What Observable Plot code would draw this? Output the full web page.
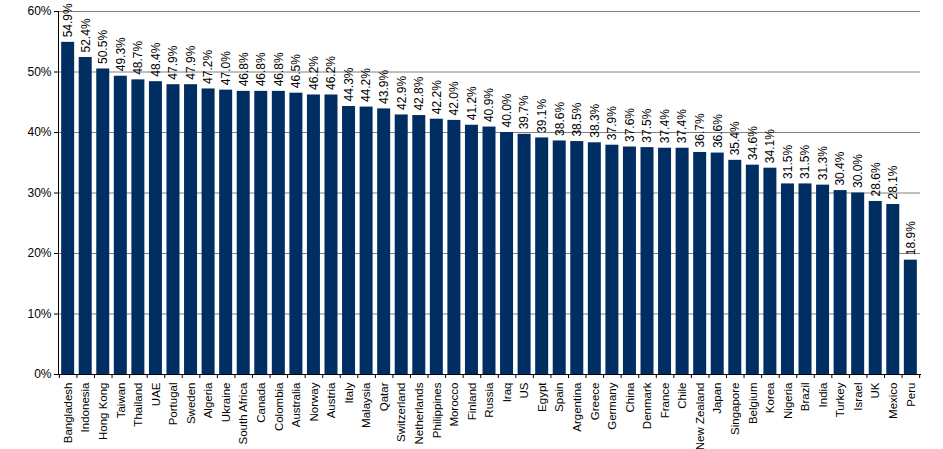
<!DOCTYPE html>
<html><head><meta charset="utf-8">
<script src="https://cdn.jsdelivr.net/npm/d3@7"></script>
<script src="https://cdn.jsdelivr.net/npm/@observablehq/plot@0.6"></script>
<style>body{margin:0;background:#fff;font-family:"Liberation Sans",Arial,sans-serif}</style>
</head><body><div id="chart"></div>
<script>
const countries = ["Bangladesh","Indonesia","Hong Kong","Taiwan","Thailand","UAE","Portugal","Sweden","Algeria","Ukraine","South Africa","Canada","Colombia","Australia","Norway","Austria","Italy","Malaysia","Qatar","Switzerland","Netherlands","Philippines","Morocco","Finland","Russia","Iraq","US","Egypt","Spain","Argentina","Greece","Germany","China","Denmark","France","Chile","New Zealand","Japan","Singapore","Belgium","Korea","Nigeria","Brazil","India","Turkey","Israel","UK","Mexico","Peru"];
const values = [54.9,52.4,50.5,49.3,48.7,48.4,47.9,47.9,47.2,47.0,46.8,46.8,46.8,46.5,46.2,46.2,44.3,44.2,43.9,42.9,42.8,42.2,42.0,41.2,40.9,40.0,39.7,39.1,38.6,38.5,38.3,37.9,37.6,37.5,37.4,37.4,36.7,36.6,35.4,34.6,34.1,31.5,31.5,31.3,30.4,30.0,28.6,28.1,18.9];
const yTicks = [0,10,20,30,40,50,60];

const data = countries.map((c,i)=>({country:c, value:values[i]}));
const W = 943, H = 449, ml = 58, mr = 23;
const pIn = 0.26, pOut = 0.18;
const step = (W - ml - mr) / (countries.length - pIn + 2 * pOut);

const chart = Plot.plot({
  width: W, height: H,
  marginLeft: ml, marginRight: mr, marginTop: 11, marginBottom: 75,
  style: {fontFamily: "'Liberation Sans', Arial, sans-serif", fontSize: "12px", color: "#000", background: "#fff"},
  x: {domain: countries, paddingInner: pIn, paddingOuter: pOut, round: false, label: null},
  y: {domain: [0, 60], label: null},
  marks: [
    Plot.ruleY(yTicks.filter(t=>t>0), {y: d=>d, stroke: "#808080", strokeWidth: 1}),
    Plot.barY(data, {x: "country", y: "value", fill: "#002d62"}),
    Plot.text(data, {x: "country", y: "value", text: d=>d.value.toFixed(1)+"%", rotate: -90, textAnchor: "start", dy: -5, fontSize: 12, fill: "#000"}),
    Plot.axisY({ticks: yTicks, tickFormat: d=>d+"%", tickSize: 4, tickPadding: 3, fontSize: 12, color: "#000", label: null}),
    Plot.frame({anchor: "left", stroke: "#000"}),
    Plot.frame({anchor: "bottom", stroke: "#000"}),
    Plot.ruleX(countries, {x: d=>d, dx: -step/2, y1: 0, y2: 0, insetBottom: -4, stroke: "#000"}),
    Plot.ruleX([countries[countries.length-1]], {x: d=>d, dx: step/2, y1: 0, y2: 0, insetBottom: -4, stroke: "#000"}),
    Plot.axisX({tickSize: 0, tickRotate: -90, tickPadding: 8, fontSize: 11.5, color: "#000", label: null})
  ]
});
document.getElementById("chart").appendChild(chart);
</script></body></html>
